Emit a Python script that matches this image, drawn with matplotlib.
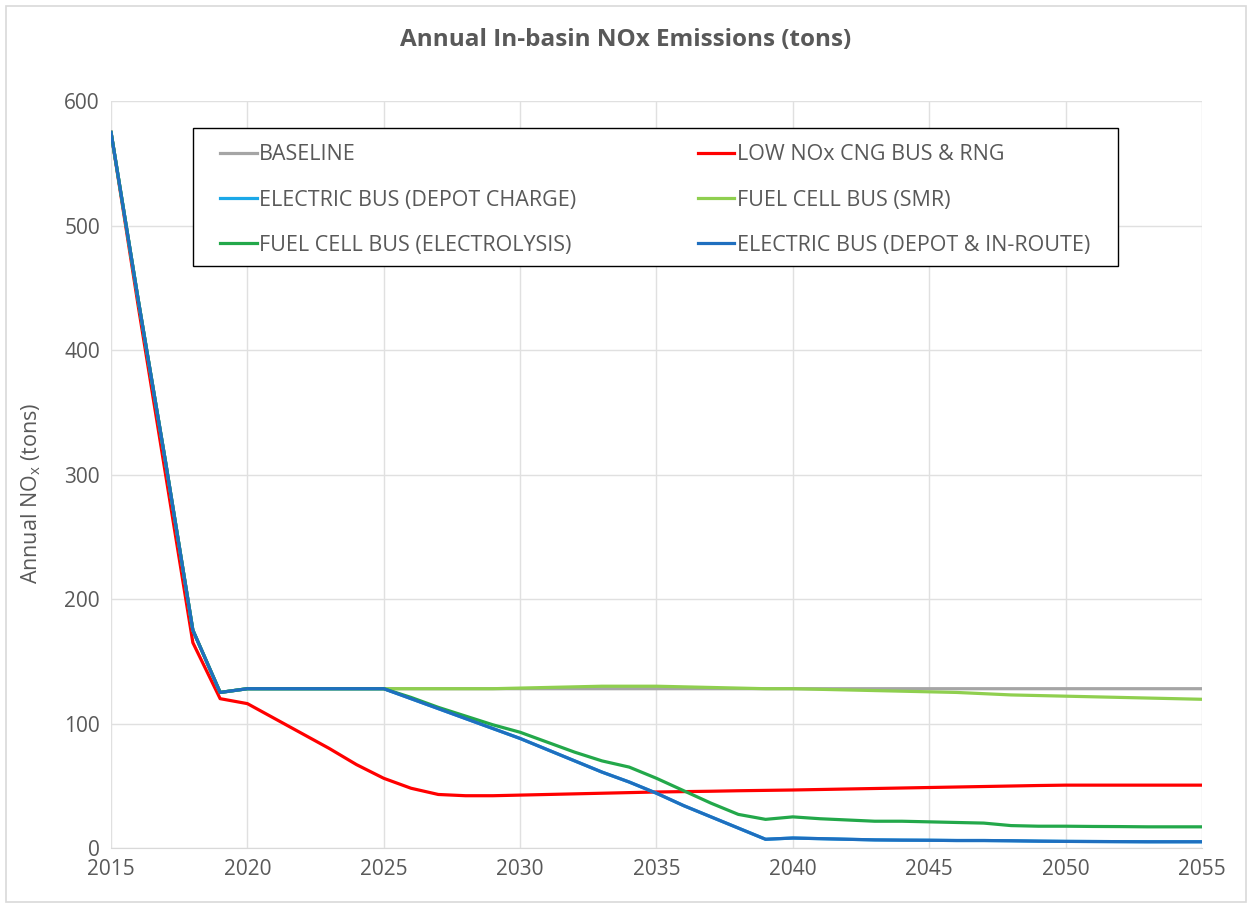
import numpy as np
import matplotlib.pyplot as plt
from matplotlib.patches import Rectangle

plt.rcParams['font.family'] = ['Open Sans', 'DejaVu Sans']

years = list(range(2015, 2056))

# values (tons per year)
baseline = [575, 440, 310, 175, 125, 128, 128, 128, 128, 128,
            128, 128, 128, 128, 128, 128, 128, 128, 128, 128,
            128, 128, 128, 128, 128, 128, 128, 128, 128, 128,
            128, 128, 128, 128, 128, 128, 128, 128, 128, 128, 128]
low_nox = [575, 435, 300, 165, 120, 116, 104, 92, 80, 67,
           56, 48, 43, 42, 42, 42.5, 43, 43.5, 44, 44.5,
           45, 45.3, 45.6, 46, 46.3, 46.6, 47, 47.4, 47.8, 48.2,
           48.6, 49, 49.4, 49.8, 50.2, 50.5, 50.5, 50.5, 50.5, 50.5, 50.5]
elec_depot = [575, 440, 310, 175, 125, 128, 128, 128, 128, 128,
              128, 120, 112, 104, 96, 88, 79, 70, 61, 53,
              44, 34, 25, 16, 7, 8, 7.5, 7, 6.5, 6.3,
              6.2, 6, 6, 5.8, 5.5, 5.3, 5.2, 5.1, 5, 5, 5]
fc_smr = [575, 440, 310, 175, 125, 128, 128, 128, 128, 128,
          128, 128, 128, 128, 128, 128.5, 129, 129.5, 130, 130,
          130, 129.5, 129, 128.5, 128, 128, 127.5, 127, 126.5, 126,
          125.5, 125, 124, 123, 122.5, 122, 121.5, 121, 120.5, 120, 119.5]
fc_elec = [575, 440, 310, 175, 125, 128, 128, 128, 128, 128,
           128, 121, 113, 106, 99, 93, 85, 77, 70, 65,
           56, 46, 36, 27, 23, 25, 23.5, 22.5, 21.5, 21.5,
           21, 20.5, 20, 18, 17.5, 17.5, 17.3, 17.2, 17, 17, 17]
elec_route = elec_depot

series = [
    ('BASELINE', baseline, '#a5a5a5'),
    ('LOW NOx CNG BUS & RNG', low_nox, '#ff0000'),
    ('ELECTRIC BUS (DEPOT CHARGE)', elec_depot, '#1ba8e8'),
    ('FUEL CELL BUS (SMR)', fc_smr, '#8fcf4f'),
    ('FUEL CELL BUS (ELECTROLYSIS)', fc_elec, '#23a84a'),
    ('ELECTRIC BUS (DEPOT & IN-ROUTE)', elec_route, '#1f6fbf'),
]

fig = plt.figure(figsize=(12.52, 9.05), dpi=100)
# thin outer border like the original chart frame
fig.patches.append(Rectangle((0.005, 0.003), 0.99, 0.99, transform=fig.transFigure,
                             fill=False, edgecolor='#d9d9d9', lw=1.2))
ax = fig.add_axes([0.0887, 0.063, 0.8713, 0.825])

lines = {}
for name, vals, col in series:
    lines[name] = ax.plot(years, vals, color=col, lw=2.3, label=name,
                          solid_joinstyle='round')[0]

ax.set_xlim(2015, 2055)
ax.set_ylim(0, 600)
ax.set_xticks(range(2015, 2056, 5))
ax.set_yticks(range(0, 601, 100))
ax.grid(True, color='#e0e0e0', lw=1)
ax.set_axisbelow(True)
for s in ['top', 'right', 'left']:
    ax.spines[s].set_visible(False)
ax.spines['bottom'].set_color('#d9d9d9')
ax.tick_params(length=0, labelsize=15, colors='#595959', pad=8)

ax.set_ylabel('Annual NO$_\\mathregular{x}$ (tons)', fontsize=15.5, color='#595959')
ax.yaxis.set_label_coords(-0.062, 0.475)
fig.text(0.5, 0.956, 'Annual In-basin NOx Emissions (tons)', ha='center', va='center',
         fontsize=17.5, fontweight='bold', color='#595959')

# legend box drawn separately so the inner padding can differ from the frame
ax.add_patch(Rectangle((0.0752, 0.7791), 0.8478, 0.1848, transform=ax.transAxes,
                       facecolor='white', edgecolor='black', lw=1.0, zorder=4))
order = ['BASELINE', 'ELECTRIC BUS (DEPOT CHARGE)', 'FUEL CELL BUS (ELECTROLYSIS)',
         'LOW NOx CNG BUS & RNG', 'FUEL CELL BUS (SMR)', 'ELECTRIC BUS (DEPOT & IN-ROUTE)']
leg = ax.legend([lines[n] for n in order], order, ncol=2, mode='expand',
                bbox_to_anchor=(0.0871, 0.7791, 0.823, 0.182), loc='upper left',
                fontsize=15.5, frameon=False,
                handlelength=1.7, handletextpad=0.1, borderaxespad=0,
                labelspacing=1.12, borderpad=0.65)
leg.set_zorder(5)
for t in leg.get_texts():
    t.set_color('#595959')

fig.savefig('out.png', dpi=100)
